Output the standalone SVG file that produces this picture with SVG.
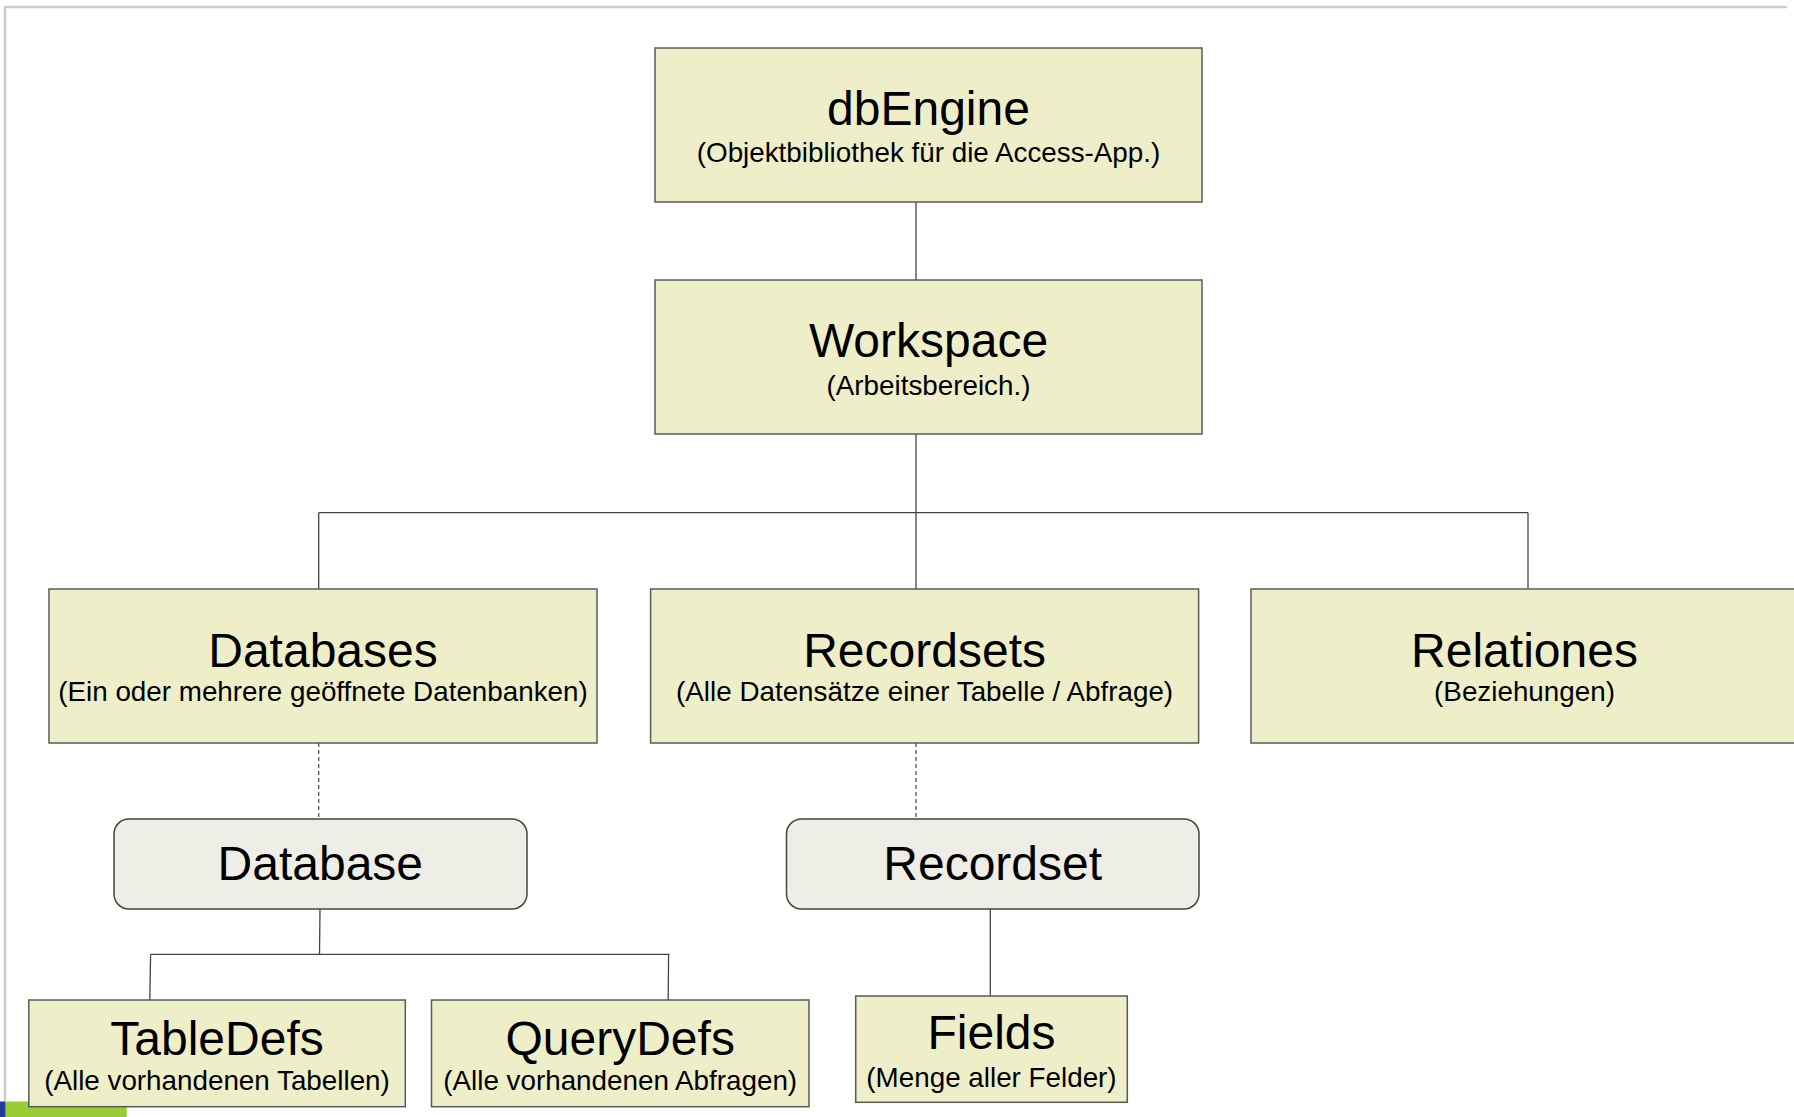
<svg xmlns="http://www.w3.org/2000/svg" width="1794" height="1117" viewBox="0 0 1794 1117">
  <style>
    .box { fill: #EEEFC9; stroke: #5a5a55; stroke-width: 1.5; }
    .obj { fill: #EEEEE6; stroke: #444; stroke-width: 1.5; }
    .title { font-family: "Liberation Sans", Arial, sans-serif; font-size: 48px; fill: #000; text-anchor: middle; }
    .sub { font-family: "Liberation Sans", Arial, sans-serif; font-size: 27.8px; fill: #000; text-anchor: middle; }
    .link { stroke: #444; stroke-width: 1.3; fill: none; }
    .dash { stroke: #555; stroke-width: 1.3; stroke-dasharray: 4 3; fill: none; }
    .frame { stroke: #cccccc; stroke-width: 2.5; fill: none; }
  </style>

  <rect width="1794" height="1117" fill="#ffffff"/>

  <!-- page frame -->
  <g id="frame">
    <line class="frame" x1="4" y1="7" x2="1787" y2="7"/>
    <line class="frame" x1="5" y1="6" x2="5" y2="1101"/>
    <rect x="0" y="1101.5" width="5.7" height="15.5" fill="#1F3C96"/>
    <rect x="5.7" y="1101.5" width="121" height="15.5" fill="#99CC33"/>
  </g>

  <!-- connectors -->
  <g id="connectors">
    <line class="link" x1="916" y1="202" x2="916" y2="280"/>
    <line class="link" x1="916" y1="434" x2="916" y2="589"/>
    <line class="link" x1="318.7" y1="512.7" x2="1528" y2="512.7"/>
    <line class="link" x1="318.7" y1="512.7" x2="318.7" y2="589"/>
    <line class="link" x1="1528" y1="512.7" x2="1528" y2="589"/>
    <line class="dash" x1="318.7" y1="743" x2="318.7" y2="819"/>
    <line class="dash" x1="916" y1="743" x2="916" y2="819"/>
    <line class="link" x1="320" y1="909" x2="319.5" y2="955"/>
    <line class="link" x1="150.6" y1="954.3" x2="669.4" y2="954.3"/>
    <line class="link" x1="150.6" y1="954.3" x2="149.8" y2="1000"/>
    <line class="link" x1="668.6" y1="954.3" x2="668.2" y2="1000"/>
    <line class="link" x1="990.3" y1="909" x2="990.3" y2="996"/>
  </g>

  <g id="dbEngine">
    <rect class="box" x="655" y="48" width="547" height="154"/>
    <text class="title" x="928.5" y="125">dbEngine</text>
    <text class="sub" x="928.5" y="162">(Objektbibliothek für die Access-App.)</text>
  </g>

  <g id="Workspace">
    <rect class="box" x="655" y="280" width="547" height="154"/>
    <text class="title" x="928.5" y="357">Workspace</text>
    <text class="sub" x="928.5" y="395">(Arbeitsbereich.)</text>
  </g>

  <g id="Databases">
    <rect class="box" x="49" y="589" width="548" height="154"/>
    <text class="title" x="323" y="666.5">Databases</text>
    <text class="sub" x="323" y="701">(Ein oder mehrere geöffnete Datenbanken)</text>
  </g>

  <g id="Recordsets">
    <rect class="box" x="650.6" y="589" width="548" height="154"/>
    <text class="title" x="924.6" y="666.5">Recordsets</text>
    <text class="sub" x="924.6" y="701">(Alle Datensätze einer Tabelle / Abfrage)</text>
  </g>

  <g id="Relationes">
    <rect class="box" x="1251" y="589" width="547" height="154"/>
    <text class="title" x="1524.5" y="666.5">Relationes</text>
    <text class="sub" x="1524.5" y="701">(Beziehungen)</text>
  </g>

  <g id="Database">
    <rect class="obj" x="114" y="819" width="413" height="90" rx="15" ry="15"/>
    <text class="title" x="320.3" y="880">Database</text>
  </g>

  <g id="Recordset">
    <rect class="obj" x="786.5" y="819" width="412.5" height="90" rx="15" ry="15"/>
    <text class="title" x="992.7" y="880">Recordset</text>
  </g>

  <g id="TableDefs">
    <rect class="box" x="28.8" y="1000" width="376.5" height="106.7"/>
    <text class="title" x="217" y="1055">TableDefs</text>
    <text class="sub" x="217" y="1090">(Alle vorhandenen Tabellen)</text>
  </g>

  <g id="QueryDefs">
    <rect class="box" x="431.5" y="1000" width="377.5" height="106.7"/>
    <text class="title" x="620.2" y="1055">QueryDefs</text>
    <text class="sub" x="620.2" y="1090">(Alle vorhandenen Abfragen)</text>
  </g>

  <g id="Fields">
    <rect class="box" x="855.7" y="996" width="271.6" height="106.3"/>
    <text class="title" x="991.5" y="1049">Fields</text>
    <text class="sub" x="991.5" y="1087">(Menge aller Felder)</text>
  </g>
</svg>
